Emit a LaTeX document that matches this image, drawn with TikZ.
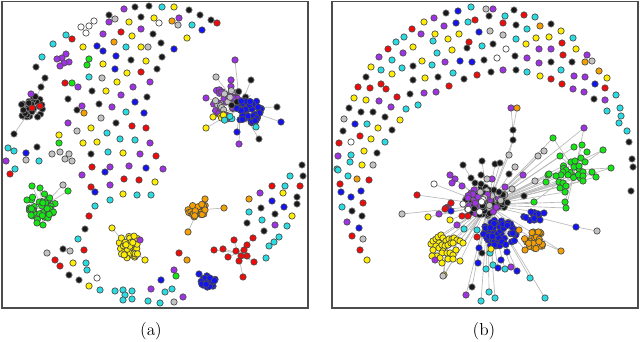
\documentclass[tikz,border=0pt]{standalone}
\definecolor{cPur}{RGB}{160,50,230}
\definecolor{cBlu}{RGB}{20,20,240}
\definecolor{cCya}{RGB}{40,220,225}
\definecolor{cYel}{RGB}{255,238,0}
\definecolor{cRed}{RGB}{240,10,10}
\definecolor{cGrn}{RGB}{20,230,20}
\definecolor{cOra}{RGB}{245,160,0}
\definecolor{cGry}{RGB}{195,195,195}
\definecolor{cBlk}{RGB}{25,25,25}
\definecolor{cEdg}{RGB}{185,185,185}
\newcommand\putdots[2]{\foreach \x/\y in {#2}{\node[nd,#1] at (\x,\y) {};}}
\newcommand\clusdots[6]{\foreach \i in {1,...,#6}{%
  \pgfmathsetmacro\rr{sqrt(rnd)}\pgfmathsetmacro\aa{360*rnd}%
  \pgfmathsetmacro\px{#2+#4*\rr*cos(\aa)}\pgfmathsetmacro\py{#3+#5*\rr*sin(\aa)}%
  \node[nd,#1] at (\px,\py) {};}}
\newcommand\clusedges[5]{\foreach \i in {1,...,#5}{%
  \pgfmathsetmacro\rr{sqrt(rnd)}\pgfmathsetmacro\aa{360*rnd}%
  \pgfmathsetmacro\px{#1+#3*\rr*cos(\aa)}\pgfmathsetmacro\py{#2+#4*\rr*sin(\aa)}%
  \draw[edge] (#1,#2) -- (\px,\py);}}
\newcommand\spokes[2]{\foreach \x/\y in {#2}{\draw[edge] (#1) -- (\x,\y);}}
\begin{document}
\begin{tikzpicture}[x=0.75pt,y=-0.75pt,
  nd/.style={circle,draw=black!70,line width=0.5pt,inner sep=0pt,minimum size=4.8pt},
  fPur/.style={fill=cPur},fBlu/.style={fill=cBlu},fCya/.style={fill=cCya},
  fYel/.style={fill=cYel},fRed/.style={fill=cRed},fGrn/.style={fill=cGrn},
  fOra/.style={fill=cOra},fGry/.style={fill=cGry},fWht/.style={fill=white},
  fBlk/.style={fill=cBlk,draw=black!50},
  edge/.style={draw=cEdg,line width=0.5pt},
  frame/.style={draw=black!70,line width=0.9pt},
  lab/.style={font=\fontsize{13}{15}\selectfont}]
\useasboundingbox (0,0) rectangle (640,342);
\pgfmathsetseed{7}
% frames
\draw[frame] (2,1.5) rectangle (308,308);
\draw[frame] (332,1.5) rectangle (638,308);
\node[lab] (la) at (151,331) {(a)};
\node[lab] (lb) at (484,331) {(b)};
% ================= panel (a) edges =================
\coordinate (cBk) at (32,108);
\coordinate (cHub) at (240,108);
\coordinate (cGr) at (42,207);
\coordinate (cYe) at (128,247);
\coordinate (cOr) at (198,210);
\coordinate (cRs) at (238,253);
\coordinate (cBl) at (208,281);
\coordinate (pA) at (41,87);
\spokes{cBk}{41/87,14/134,31/94}
\spokes{pA}{45/78}
\clusedges{32}{108}{13}{13}{10}
\spokes{cHub}{235/60,216/77,231/80,251/80,206/98,277/107,281/122,206/128,213/117,259/139,239/144,237/132,256/127}
\clusedges{240}{108}{22}{16}{24}
\spokes{cGr}{32/186,40/188,63/185,68/191,27/200,43/225,37/223}
\clusedges{42}{207}{14}{14}{20}
\spokes{cYe}{112/228,145/260,140/240}
\clusedges{128}{247}{12}{12}{14}
\spokes{cOr}{224/208,188/232,205/199}
\spokes{cRs}{214/250,223/249,234/240,247/245,253/238,228/257,241/256,247/256,239/261,254/262,236/251,244/250,243/277}
\spokes{cBl}{199/274}
% ================= panel (a) nodes =================
\clusdots{fBlk}{32}{108}{13}{13}{30}
\clusdots{fPur}{226}{102}{15}{17}{38}
\clusdots{fGry}{226}{100}{11}{12}{9}
\clusdots{fBlk}{238}{100}{9}{9}{9}
\clusdots{fYel}{222}{117}{6}{3}{6}
\clusdots{fCya}{229}{119}{5}{3}{3}
\clusdots{fBlu}{249}{112}{15}{13}{55}
\clusdots{fGrn}{42}{207}{14}{14}{40}
\clusdots{fYel}{129}{247}{12}{12}{40}
\clusdots{fOra}{198}{210}{10}{8}{25}
\clusdots{fBlu}{208}{281}{8}{7}{20}
\putdots{fPur}{124/9,179/18,109/22,141/29,103/34,66/54,62/58,57/59,69/62,64/63,60/66,78/87,150/82,133/87,121/95,82/106,112/107,68/123,150/143,6/161,140/154,82/175,110/167,129/166,163/169,110/185,151/289,183/297,174/270,260/193,275/225,235/60,231/80,206/98,239/144,31/94,140/240}
\putdots{fBlk}{135/7,149/6,189/10,200/15,211/20,109/15,141/17,153/34,161/43,131/60,162/57,36/67,45/78,157/69,41/87,92/91,147/97,68/99,99/104,77/110,116/123,14/134,37/147,91/154,302/165,303/176,297/197,297/204,261/208,275/214,247/223,264/231,85/229,63/249,69/275,79/280,251/80,277/107,259/139}
\putdots{fCya}{162/7,192/25,66/35,53/44,126/47,42/57,89/77,126/112,107/133,120/139,135/140,8/148,14/151,39/161,108/152,15/169,137/195,151/195,110/200,95/206,78/239,86/263,87/270,100/290,115/291,123/290,132/291,125/295,123/300,132/299,148/301,160/303,165/292,172/289,290/176,285/186,249/212,262/220,287/226,279/237,274/242,269/246,266/258,256/127}
\putdots{fYel}{174/7,154/18,129/22,132/36,187/38,83/47,141/47,103/64,146/61,127/73,117/82,106/91,91/128,59/135,83/143,97/142,123/153,155/182,123/194,73/263,89/286,283/193,292/216,206/128,213/117,112/228,145/260}
\putdots{fRed}{217/23,121/32,72/39,141/72,65/83,132/126,146/128,156/156,10/174,92/167,91/187,124/179,139/180,89/216,84/250,55/260,60/266,179/253,272/186,300/186,234/240,247/245,253/238,214/250,223/249,236/251,244/250,228/257,241/256,247/256,239/261,254/262,243/277,32/108,40/106}
\putdots{fBlu}{202/30,97/46,103/51,174/49,116/56,115/69,135/102,144/113,26/153,146/168,105/172,95/192,161/280,272/201,284/207,281/122,237/132,199/274}
\putdots{fGry}{115/19,178/25,148/47,102/78,101/118,77/131,52/154,60/152,69/154,65/159,72/161,26/160,174/302,47/253,70/251,63/185,216/77}
\putdots{fWht}{159/23,94/21,89/26,81/27,86/33,97/278}
\putdots{fOra}{172/21,114/42,84/113,249/199,187/260,224/208,188/232,205/199}
\putdots{fGrn}{89/59,87/65,72/83,59/143,176/276,32/186,40/188,68/191,27/200,43/225,37/223}
% ================= panel (b) edges =================
\coordinate (hubB) at (488,205);
\coordinate (pB1) at (513,130);
\coordinate (pB2) at (513,140);
\coordinate (grB) at (575,170);
\coordinate (yeB) at (446,248);
\coordinate (orB) at (535,240);
\coordinate (blB) at (576,227);
\spokes{pB1}{511/108,517/108,513/140}
\spokes{pB2}{509/155}
\spokes{blB}{597/231}
\spokes{hubB}{513/140,509/155,515/167,463/165,482/161,495/164,500/163,450/175,455/179,434/184,417/195,402/214,428/217,439/214,450/220,457/225,523/175,535/181,538/156,544/151,553/138,534/202,565/202,566/208,524/196,544/213,576/227,561/251,525/250,530/278,545/298,517/271,511/267,505/269,498/268,493/265,486/269,478/263,481/301,489/292,495/298,472/287,466/295,443/276,444/275,437/260,584/128,603/150,611/168,596/177,592/172,560/156,574/147,548/175,546/182,559/182,565/192,583/181,583/172,571/162,556/176,563/183,431/244,433/250,437/256,442/263,460/261,463/243,441/235,470/230,519/230}
\spokes{grB}{553/138,584/128,603/150,611/168,596/177,582/145,560/156,546/182,534/202,565/202,566/208}
\spokes{yeB}{443/276,444/275,435/260}
\spokes{orB}{561/251,519/230,525/250}
\clusedges{488}{203}{22}{16}{30}
\clusedges{498}{232}{18}{14}{20}
% ================= panel (b) nodes =================
\clusdots{fBlk}{487}{202}{22}{16}{28}
\clusdots{fPur}{484}{202}{21}{15}{14}
\clusdots{fGry}{490}{198}{17}{12}{6}
\clusdots{fBlk}{488}{202}{20}{15}{25}
\clusdots{fPur}{484}{204}{20}{14}{9}
\clusdots{fGry}{490}{198}{16}{12}{5}
\clusdots{fWht}{478}{205}{14}{9}{4}
\clusdots{fBlu}{499}{234}{18}{14}{60}
\clusdots{fBlu}{533}{217}{10}{6}{10}
\clusdots{fYel}{446}{245}{10}{6}{5}
\clusdots{fOra}{535}{240}{11}{9}{28}
\clusdots{fGrn}{572}{172}{12}{10}{10}
\putdots{fYel}{431/244,433/241,436/239,438/237,441/235,443/238,446/241,449/239,452/239,454/238,457/240,460/241,463/243,439/243,436/246,433/250,439/248,442/245,445/246,448/245,451/243,453/243,443/251,442/253,447/253,450/253,453/255,456/250,437/256,440/258,432/256,442/263,448/259,453/259,460/261}
\putdots{fCya}{471/7,505/16,535/17,404/37,396/42,337/169,468/22,527/29,573/38,616/95,620/108,621/116,619/123,627/131,433/41,482/46,516/39,561/70,437/53,392/60,381/70,402/68,453/73,527/72,432/65,406/109,418/105,367/124,385/142,351/155,350/162,338/170,348/176,342/207,607/111,464/229,477/230,486/269,493/265,505/269,530/278,545/298,490/253,481/301,489/292,495/298}
\putdots{fPur}{493/9,434/18,379/57,338/156,444/26,421/34,587/55,605/100,539/49,551/49,527/58,445/62,403/53,503/70,539/63,574/76,585/77,573/89,584/92,424/93,436/92,379/101,391/107,347/222,584/128,511/108,450/175,455/179,452/183,462/186,492/179,505/187,523/175,468/198,448/207,439/214,457/225,435/260,466/295,511/267}
\putdots{fBlk}{514/10,489/16,446/13,366/77,349/108,343/131,516/25,551/24,629/142,632/159,633/167,467/48,493/44,515/56,484/60,413/66,413/80,438/77,464/79,491/72,516/70,572/62,551/62,594/99,410/94,361/112,373/112,385/117,392/130,377/153,352/211,362/216,631/191,513/130,513/140,463/165,482/161,495/164,500/163,481/175,471/178,509/174,475/183,481/184,494/190,499/192,524/196,472/287,482/253}
\putdots{fYel}{424/22,371/67,354/98,435/34,459/34,549/37,561/31,576/49,607/78,448/39,526/44,536/38,422/61,452/50,413/47,392/74,425/78,540/76,366/100,400/120,378/128,371/139,364/151,362/165,367/260,428/217,450/220,491/249,444/275}
\putdots{fRed}{412/29,388/49,358/87,339/143,475/20,503/23,524/15,605/88,469/42,562/43,563/55,381/84,386/89,370/88,477/75,551/79,562/84,397/97,449/86,360/136,369/180,340/184,363/203,352/236,360/250,417/195,446/208,451/203,462/216,468/216,477/237,445/209}
\putdots{fBlu}{458/11,456/23,479/32,472/62,460/61,595/84,355/124,341/192,351/197,361/191,359/228,451/211,544/213,531/212,540/220,576/227,478/263,498/268,517/271,501/260,507/252,479/248}
\putdots{fGry}{486/9,490/31,503/35,592/61,344/119,373/165,363/239,402/214,509/155,515/167,487/179,512/189,538/156,544/151,535/181,597/231,443/276}
\putdots{fWht}{506/49,497/58,351/142,434/184,463/204}
\putdots{fOra}{540/26,585/62,599/71,357/179,517/108,519/230,525/250,561/251}
\putdots{fGrn}{553/138,560/156,574/147,582/145,587/152,603/150,581/158,571/162,575/161,585/162,574/167,579/166,611/168,583/172,592/172,596/177,583/176,566/170,563/172,568/175,561/175,556/176,548/175,546/182,559/182,563/183,560/188,566/186,565/192,534/202,565/202,566/208,549/174,583/181}
\end{tikzpicture}
\end{document}
